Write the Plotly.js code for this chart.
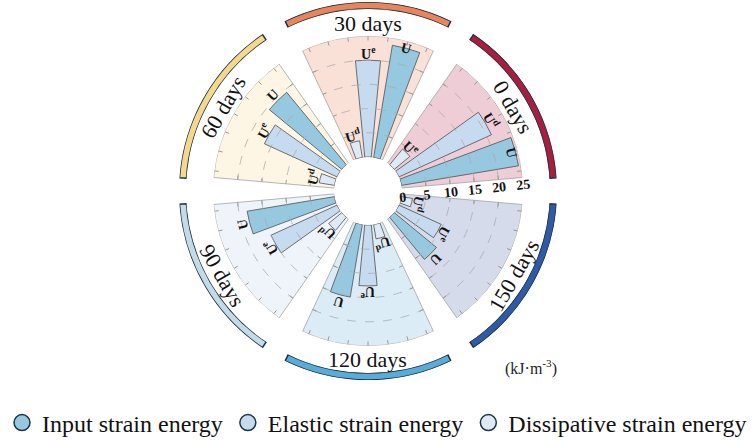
<!DOCTYPE html>
<html>
<head>
<meta charset="utf-8">
<script src="https://cdn.plot.ly/plotly-3.0.1.min.js"></script>
<style>
  html, body { margin: 0; padding: 0; background: #ffffff; }
  #chart { width: 754px; height: 441px; }
</style>
</head>
<body>
<div id="chart"></div>
<script>
// Curing periods and strain energy components (kJ·m^-3)
const periods = ['0 days', '30 days', '60 days', '90 days', '120 days', '150 days'];
const inputEnergy = [24.5, 23.5, 19.4, 18.3, 15.2, 11.3];
const elasticEnergy = [21.0, 20.0, 16.5, 15.0, 12.6, 9.6];
const dissipativeEnergy = [4.2, 3.5, 3.2, 3.5, 3.0, 2.3];
const barTags = [
  ['U', 'U<sup>d</sup>', 'U<sup>e</sup>'],
  ['U', 'U<sup>e</sup>', 'U<sup>d</sup>'],
  ['U', 'U<sup>e</sup>', 'U<sup>d</sup>'],
  ['U', 'U<sup>e</sup>', 'U<sup>d</sup>'],
  ['U', 'U<sup>e</sup>', 'U<sup>d</sup>'],
  ['U', 'U<sup>e</sup>', 'U<sup>d</sup>']
];
const radialTicks = [0, 5, 10, 15, 20, 25];
const seriesNames = ['Input strain energy', 'Elastic strain energy', 'Dissipative strain energy'];
const unitLabel = '(kJ·m<sup>-3</sup>)';

// Geometry (pixels) and styling
const W = 754, H = 441;
const CX = 368, CY = 191;        // centre of the wheel
const R = 155, HOLE = 34;        // outer radius of the sectors, inner hole
const RMAX = 25;                 // radial axis maximum
const RING_OUT = 189, RING_IN = 182;
const LABEL_R = 168;
const SECTOR_W = 50, RING_W = 52, BAR_W = 11, BAR_STEP = 15;
const FONT = 'Liberation Serif, Times New Roman, serif';

const sectorColors = ['#eecdd6', '#f9e1d8', '#fdf6e4', '#eff4fa', '#dcecf6', '#d5dbea'];
const ringColors = ['#a61f40', '#e8855c', '#f4d88d', '#c4dbe7', '#5aacd8', '#2f5aa6'];
const seriesColors = ['#96c8e0', '#c6dbef', '#deebf7'];
const edgeDark = '#1f3345';

const sectorAngle = periods.map((_, i) => 30 + 60 * i);
const pxPerUnit = (R - HOLE) / RMAX;

function domainFor(r) {
  return { x: [(CX - r) / W, (CX + r) / W], y: [1 - (CY + r) / H, 1 - (CY - r) / H] };
}
function toPaper(rPx, deg) {
  const a = deg * Math.PI / 180;
  return { x: (CX + rPx * Math.cos(a)) / W, y: 1 - (CY - rPx * Math.sin(a)) / H };
}

const traces = [];

// sector backgrounds
traces.push({
  type: 'barpolar', subplot: 'polar',
  r: periods.map(() => RMAX), theta: sectorAngle, width: periods.map(() => SECTOR_W),
  marker: { color: sectorColors, line: { color: '#a3a3a3', width: 0.8 } },
  showlegend: false, hoverinfo: 'skip'
});

// dashed grid arcs inside every sector, plus small edge ticks
const gridR = [], gridT = [], edgeR = [], edgeT = [];
sectorAngle.forEach(c => {
  [5, 10, 15, 20].forEach(g => {
    for (let t = c - SECTOR_W / 2; t <= c + SECTOR_W / 2 + 1e-9; t += 1) { gridR.push(g); gridT.push(t); }
    gridR.push(null); gridT.push(null);
    const rPx = HOLE + g * pxPerUnit;
    const dT = 4 / rPx * 180 / Math.PI;
    const lo = c - SECTOR_W / 2, hi = c + SECTOR_W / 2;
    edgeR.push(g, g, null, g, g, null);
    edgeT.push(lo, lo + dT, null, hi, hi - dT, null);
  });
});
traces.push({
  type: 'scatterpolar', subplot: 'polar', mode: 'lines',
  r: gridR, theta: gridT, connectgaps: false,
  line: { color: '#ababab', width: 0.8, dash: 'dash' },
  showlegend: false, hoverinfo: 'skip'
});
traces.push({
  type: 'scatterpolar', subplot: 'polar', mode: 'lines',
  r: edgeR, theta: edgeT, connectgaps: false,
  line: { color: '#8c8c8c', width: 0.8 },
  showlegend: false, hoverinfo: 'skip'
});

// energy bars
const seriesData = [inputEnergy, elasticEnergy, dissipativeEnergy];
const offsets = [-BAR_STEP, 0, BAR_STEP];
seriesData.forEach((vals, j) => {
  traces.push({
    type: 'barpolar', subplot: 'polar', name: seriesNames[j],
    r: vals, theta: sectorAngle.map(c => c + offsets[j]), width: vals.map(() => BAR_W),
    marker: { color: seriesColors[j], line: { color: '#4f4f4f', width: 0.8 } },
    showlegend: false, hoverinfo: 'skip'
  });
});

// legend entries (round markers)
seriesNames.forEach((n, j) => {
  traces.push({
    type: 'scatterpolar', subplot: 'polar', mode: 'markers', name: n,
    r: [null], theta: [null],
    marker: { symbol: 'circle', size: 16, color: seriesColors[j], line: { color: edgeDark, width: 1.5 } },
    hoverinfo: 'skip'
  });
});

// outer coloured arcs
traces.push({
  type: 'barpolar', subplot: 'polar2',
  r: periods.map(() => 1), theta: sectorAngle, width: periods.map(() => RING_W),
  marker: { color: ringColors, line: { color: edgeDark, width: 1.5 } },
  showlegend: false, hoverinfo: 'skip'
});

// annotations
const annotations = [];
periods.forEach((p, i) => {
  const c = sectorAngle[i];
  let ang = 90 - c;
  while (ang > 90) ang -= 180;
  while (ang < -90) ang += 180;
  const pos = toPaper(LABEL_R, c);
  annotations.push({
    xref: 'paper', yref: 'paper', x: pos.x, y: pos.y, xanchor: 'center', yanchor: 'middle',
    text: p, textangle: ang, showarrow: false,
    font: { family: FONT, size: 22, color: '#111111' }
  });
  seriesData.forEach((vals, j) => {
    const t = c + offsets[j];
    const rPx = Math.min(HOLE + vals[i] * pxPerUnit + 7, R - 7);
    const q = toPaper(rPx, t);
    annotations.push({
      xref: 'paper', yref: 'paper', x: q.x, y: q.y, xanchor: 'center', yanchor: 'middle',
      text: '<b>' + barTags[i][j] + '</b>', textangle: 90 - t, showarrow: false,
      font: { family: FONT, size: 14, color: '#111111' }
    });
  });
});
annotations.push({
  xref: 'paper', yref: 'paper', x: 531 / W, y: 1 - 367 / H, xanchor: 'center', yanchor: 'middle',
  text: unitLabel, showarrow: false, font: { family: FONT, size: 16, color: '#222222' }
});

// outer-arc ticks for each sector
const arcTicks = [];
sectorAngle.forEach(c => { for (let k = -3; k <= 3; k++) arcTicks.push(c + 7.5 * k); });

const layout = {
  width: W, height: H,
  margin: { l: 0, r: 0, t: 0, b: 0, autoexpand: false },
  paper_bgcolor: '#ffffff',
  showlegend: true,
  legend: {
    orientation: 'h', x: 0.5, xanchor: 'center', y: 1 - 423 / H, yanchor: 'middle',
    font: { family: FONT, size: 24, color: '#111111' },
    itemwidth: 30, bgcolor: 'rgba(0,0,0,0)', traceorder: 'normal'
  },
  polar: {
    domain: domainFor(R),
    hole: HOLE / R,
    bgcolor: 'rgba(0,0,0,0)',
    barmode: 'overlay',
    radialaxis: {
      range: [0, RMAX], tickmode: 'array', tickvals: radialTicks,
      showgrid: false, showline: false, ticks: '',
      angle: 6, side: 'clockwise', tickangle: 0,
      tickfont: { family: FONT, size: 14, color: '#111111', weight: 'bold' },
      layer: 'above traces'
    },
    angularaxis: {
      direction: 'counterclockwise', rotation: 0,
      showgrid: false, showline: false, showticklabels: false,
      tickmode: 'array', tickvals: arcTicks, ticks: 'inside', ticklen: 4,
      tickcolor: '#8c8c8c', tickwidth: 0.8, layer: 'above traces'
    }
  },
  polar2: {
    domain: domainFor(RING_OUT),
    hole: RING_IN / RING_OUT,
    bgcolor: 'rgba(0,0,0,0)',
    barmode: 'overlay',
    radialaxis: {
      range: [0, 1], visible: false, showgrid: false, showticklabels: false,
      tickmode: 'array', tickvals: []
    },
    angularaxis: {
      direction: 'counterclockwise', rotation: 0,
      showgrid: false, showline: false, showticklabels: false, ticks: '',
      tickmode: 'array', tickvals: []
    }
  },
  annotations: annotations
};

Plotly.newPlot('chart', traces, layout, { staticPlot: true, displayModeBar: false });
</script>
</body>
</html>
